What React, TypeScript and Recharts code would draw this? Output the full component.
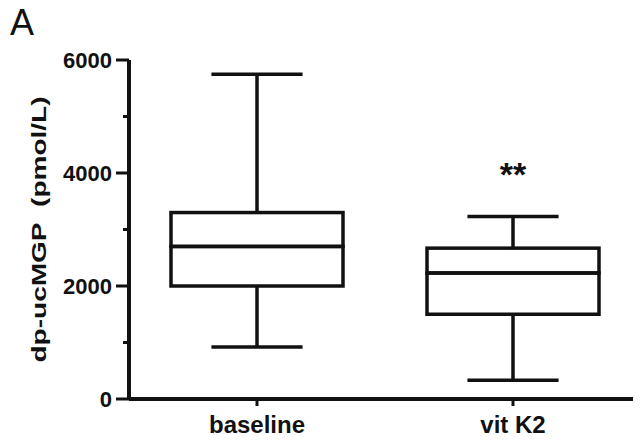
import React from 'react';
import { ComposedChart, Bar, XAxis, YAxis, Label, LabelList } from 'recharts';

// five-number summary per group
const groups = ['baseline', 'vit K2'];
const whiskerLow = [920, 330];
const quartile1 = [2000, 1500];
const medians = [2700, 2230];
const quartile3 = [3300, 2670];
const whiskerHigh = [5750, 3230];
const significance = ['', '**'];
const yTicks = [0, 1000, 2000, 3000, 4000, 5000, 6000];

// stacked segments: invisible base, whisker, two half boxes, whisker
const rows = groups.map((name, i) => ({
  name,
  base: whiskerLow[i],
  lowWhisker: quartile1[i] - whiskerLow[i],
  lowBox: medians[i] - quartile1[i],
  highBox: quartile3[i] - medians[i],
  highWhisker: whiskerHigh[i] - quartile3[i],
  mark: significance[i],
}));

const FONT = '"Liberation Sans", Arial, Helvetica, sans-serif';
const INK = '#111';
const LINE = 3.5;
const CAP = 0.53;

const LowWhisker = (props: any) => {
  const { x, y, width, height } = props;
  const cx = x + width / 2;
  const half = (width * CAP) / 2;
  return (
    <g stroke={INK} strokeWidth={LINE}>
      <line x1={cx} x2={cx} y1={y} y2={y + height} />
      <line x1={cx - half} x2={cx + half} y1={y + height} y2={y + height} />
    </g>
  );
};

const HighWhisker = (props: any) => {
  const { x, y, width, height } = props;
  const cx = x + width / 2;
  const half = (width * CAP) / 2;
  return (
    <g stroke={INK} strokeWidth={LINE}>
      <line x1={cx} x2={cx} y1={y} y2={y + height} />
      <line x1={cx - half} x2={cx + half} y1={y} y2={y} />
    </g>
  );
};

const BoxHalf = (props: any) => {
  const { x, y, width, height } = props;
  return <rect x={x} y={y} width={width} height={height} fill="none" stroke={INK} strokeWidth={LINE} />;
};

const YTick = (props: any) => {
  const { x, y, payload } = props;
  const major = payload.value % 2000 === 0;
  const right = x + 13;
  return (
    <g>
      <line x1={major ? x : right - 6} x2={right} y1={y} y2={y} stroke={INK} strokeWidth={3} />
      {major && (
        <text x={x - 4} y={y} dy={7.5} textAnchor="end" fontFamily={FONT} fontWeight="bold" fontSize={22} fill={INK}>
          {payload.value}
        </text>
      )}
    </g>
  );
};

const XTick = (props: any) => {
  const { x, y, payload } = props;
  return (
    <text x={x} y={y + 27} textAnchor="middle" fontFamily={FONT} fontWeight="bold" fontSize={24} fill={INK}>
      {payload.value}
    </text>
  );
};

const renderYLabel = (props: any) => {
  const vb = props.viewBox;
  const cy = vb.y + vb.height / 2;
  const cx = 31;
  return (
    <text
      x={cx}
      y={cy}
      transform={`rotate(-90, ${cx}, ${cy})`}
      textAnchor="middle"
      dominantBaseline="central"
      fontFamily={FONT}
      fontWeight="bold"
      fontSize={20}
      fill={INK}
      textLength={266}
      lengthAdjust="spacingAndGlyphs"
    >
      {'dp-ucMGP\u00a0\u00a0(pmol/L)'}
    </text>
  );
};

const renderMark = (props: any) => {
  const { x, y, width, value } = props;
  if (!value) return null;
  return (
    <text x={x + width / 2} y={y - 31} textAnchor="middle" fontFamily={FONT} fontWeight="bold" fontSize={34} fill={INK}>
      {value}
    </text>
  );
};

export default function App() {
  return (
    <div style={{ position: 'relative', width: 633, height: 434, background: '#fff' }}>
      <ComposedChart
        width={633}
        height={434}
        data={rows}
        barSize={172}
        margin={{ top: 52, right: 0, bottom: 0, left: 0 }}
      >
        <XAxis
          dataKey="name"
          height={43}
          axisLine={{ stroke: INK, strokeWidth: 4 }}
          tickLine={{ stroke: INK, strokeWidth: 3 }}
          tickSize={7}
          tickMargin={0}
          tick={<XTick />}
        />
        <YAxis
          type="number"
          domain={[0, 6000]}
          ticks={yTicks}
          interval={0}
          width={121}
          axisLine={{ stroke: INK, strokeWidth: 4 }}
          tickLine={false}
          tickSize={13}
          tickMargin={0}
          tick={<YTick />}
        >
          <Label content={renderYLabel} />
        </YAxis>
        <Bar dataKey="base" stackId="box" fill="none" isAnimationActive={false} />
        <Bar dataKey="lowWhisker" stackId="box" shape={<LowWhisker />} isAnimationActive={false} />
        <Bar dataKey="lowBox" stackId="box" shape={<BoxHalf />} isAnimationActive={false} />
        <Bar dataKey="highBox" stackId="box" shape={<BoxHalf />} isAnimationActive={false} />
        <Bar dataKey="highWhisker" stackId="box" shape={<HighWhisker />} isAnimationActive={false}>
          <LabelList dataKey="mark" content={renderMark} />
        </Bar>
      </ComposedChart>
      {/* panel letter, laid over the page corner */}
      <svg width={641} height={442} style={{ position: 'absolute', left: -8, top: -8, pointerEvents: 'none' }}>
        <text x={10} y={35} fontFamily={FONT} fontSize={36} fill={INK}>
          A
        </text>
      </svg>
    </div>
  );
}
